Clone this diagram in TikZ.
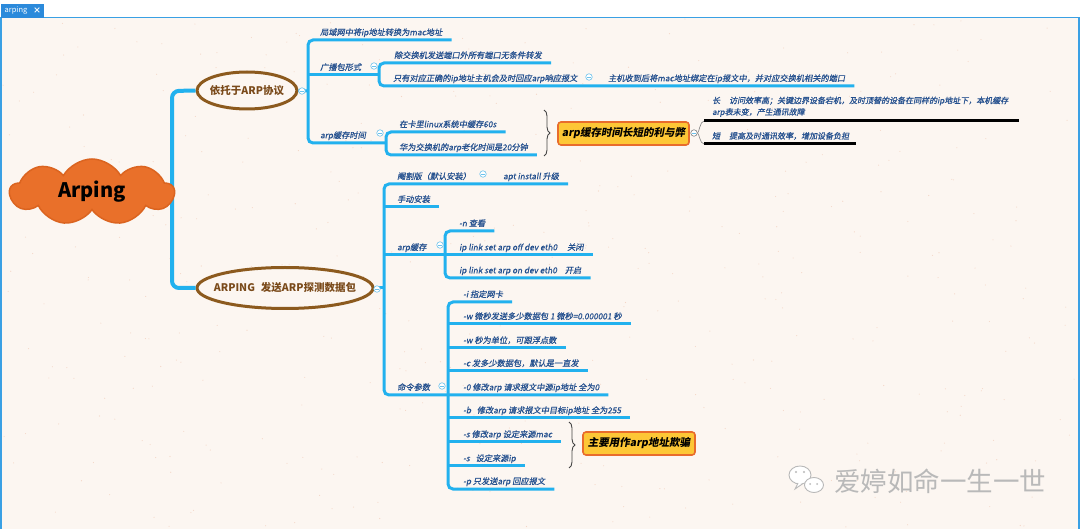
\documentclass[tikz,border=0pt]{standalone}
\usepackage{fontspec}
\setmainfont{Noto Sans CJK SC}
\newfontfamily\slt[FakeSlant=0.18,FakeBold=0.6]{Noto Sans CJK SC}
\newfontfamily\sltb[FakeSlant=0.18]{Noto Sans CJK SC}
\usetikzlibrary{shapes.symbols,shapes.geometric,decorations.pathreplacing}
\definecolor{bgc}{HTML}{FCF6F1}
\definecolor{spk}{HTML}{F4D6C6}
\definecolor{lb}{HTML}{22B1EE}
\definecolor{frm}{HTML}{3AA0E4}
\definecolor{tab}{HTML}{2B8ADB}
\definecolor{lt}{HTML}{24508E}
\definecolor{mkc}{HTML}{6CC2EC}
\definecolor{brn}{HTML}{8C5A1E}
\definecolor{brt}{HTML}{7A4A1A}
\definecolor{bxf}{HTML}{FDC736}
\definecolor{bxd}{HTML}{E86C2C}
\definecolor{cldf}{HTML}{E9702A}
\definecolor{cldd}{HTML}{DB6420}
\definecolor{brcc}{HTML}{444444}
\definecolor{wm}{HTML}{B9B9B9}
\begin{document}
\begin{tikzpicture}[x=1pt,y=-1pt,
  br/.style={draw=lb,line width=3pt,rounded corners=5pt},
  tr/.style={draw=lb,line width=4pt,rounded corners=7pt},
  leaf/.style={font=\slt\fontsize{8.2}{9}\selectfont,text=lt,anchor=south west,inner xsep=9pt,inner ysep=3pt,xshift=-9pt,text height=7pt,text depth=1.5pt},
  mk/.style={circle,draw=mkc,fill=white,line width=0.6pt,minimum size=6.5pt,inner sep=0pt,
    path picture={\draw[mkc,line width=0.6pt] ([xshift=-2pt]path picture bounding box.center) -- ([xshift=2pt]path picture bounding box.center);}},
  topic/.style={ellipse,draw=brn,line width=3pt,fill=bgc,text=brt,font=\bfseries\fontsize{10.5}{12}\selectfont,inner ysep=0pt},
  note/.style={rectangle,rounded corners=3pt,draw=bxd,fill=bxf,line width=1.6pt,font=\sltb\bfseries\fontsize{10.5}{12}\selectfont,inner sep=0pt},
  brc/.style={draw=brcc,line width=0.9pt,decorate,decoration={brace,amplitude=6pt}},
  uline/.style={draw=black,line width=3pt},
  thinc/.style={draw=gray,line width=0.6pt},
]
% ---------- background and window ----------
\useasboundingbox (0,0) rectangle (1080,529);
\fill[white] (0,0) rectangle (1080,529);
\fill[bgc] (1,17) rectangle (1079,529);
\pgfmathsetseed{7}
\foreach \i in {1,...,450}{\fill[spk] (rnd*1074+3, rnd*508+19) circle (0.55);}
\draw[frm,line width=1.2pt] (1,529) -- (1,17.5) -- (1079,17.5) -- (1079,529);
\fill[tab] (1,4) rectangle (44,18);
\node[text=white,font=\fontsize{7.5}{8}\selectfont,inner sep=0pt] (tabtxt) at (16,11) {arping};
\node[text=white,font=\bfseries\fontsize{8}{8}\selectfont,inner sep=0pt] (tabx) at (37,10.5) {×};

% ---------- main trunk ----------
\node[topic,inner xsep=-3pt,minimum width=100pt,minimum height=37pt] (e1) at (247,90.5) {依托于ARP协议};
\node[topic,inner xsep=-9.5pt,minimum width=176pt,minimum height=41pt] (e2) at (285,288) {ARPING\hspace{6pt}发送ARP探测数据包};
\coordinate (tt) at (172,91);
\coordinate (tb) at (172,288);
\draw[tr] (e1.west) -- (tt) -- (tb) -- (e2.west);
\node[cloud,cloud puffs=9,cloud puff arc=120,cloud ignores aspect,minimum width=164pt,minimum height=66pt,
  fill=cldf,draw=cldd,line width=1.5pt,font=\bfseries\fontsize{20}{22}\selectfont,text=black] (root) at (92,192) {Arping};

% ---------- branch 1 ----------
\node[leaf] (n11) at (320,40) {局域网中将ip地址转换为mac地址};
\node[leaf] (n12) at (320,75) {广播包形式};
\node[leaf] (n121) at (394,63) {除交换机发送端口外所有端口无条件转发};
\node[leaf] (n122) at (393,86) {只有对应正确的ip地址主机会及时回应arp响应报文};
\node[leaf] (n1221) at (608,86) {主机收到后将mac地址绑定在ip报文中，并对应交换机相关的端口};
\node[leaf] (n13) at (320,143) {arp缓存时间};
\node[leaf] (n131) at (399,132) {在卡里linux系统中缓存60s};
\node[leaf] (n132) at (399,155) {华为交换机的arp老化时间是20分钟};
\coordinate (b1t) at (308,40);
\coordinate (b1b) at (308,143);
\coordinate (b1m) at (308,75);
\coordinate (b1c) at (308,91);
\coordinate (s12t) at (379,63);
\coordinate (s12b) at (379,86);
\coordinate (s12m) at (379,75);
\coordinate (s13t) at (386,132);
\coordinate (s13b) at (386,155);
\coordinate (s13m) at (386,143);
\draw[br] (n11.south east) -- (b1t) -- (b1b) -- (s13m);
\draw[br] (b1m) -- (s12m);
\draw[br] (e1.east) -- (b1c);
\draw[br] (n121.south east) -- (s12t) -- (s12b) -- (n1221.south east);
\draw[br] (n131.south east) -- (s13t) -- (s13b) -- (n132.south east);
\node[mk] (m1) at (302,91) {};
\node[mk] (m12) at (374,66) {};
\node[mk] (m122) at (589,77) {};
\node[mk] (m13) at (380,133) {};

% brace and note 1
\coordinate (bt1) at (544,110);
\coordinate (bb1) at (544,156);
\draw[brc] (bt1) -- (bb1);
\node[note,minimum width=131pt,minimum height=23pt] (box1) at (623.5,133.5) {arp缓存时间长短的利与弊};
\node[mk,draw=gray] (m3) at (694,133) {};
\coordinate (l1s) at (704,121);
\coordinate (l1e) at (1019,121);
\coordinate (l2s) at (704,144);
\coordinate (l2e) at (856,144);
\draw[thinc] (m3.east) .. controls (699,133) and (700,121) .. (l1s);
\draw[thinc] (m3.east) .. controls (699,133) and (700,144) .. (l2s);
\draw[uline] (l1s) -- (l1e);
\draw[uline] (l2s) -- (l2e);
\node[font=\slt\fontsize{8}{11.5}\selectfont,text=lt,anchor=south west,inner sep=0pt,align=left] (long) at (712,117)
  {长\hspace{9pt}访问效率高；关键边界设备宕机，及时顶替的设备在同样的ip地址下，本机缓存\\arp表未变，产生通讯故障};
\node[font=\slt\fontsize{8}{11.5}\selectfont,text=lt,anchor=south west,inner sep=0pt] (short) at (712,140)
  {短\hspace{9pt}提高及时通讯效率，增加设备负担};

% ---------- branch 2 ----------
\node[leaf] (n21) at (397,184) {阉割版（默认安装）};
\node[leaf] (n21a) at (503,184) {apt install 升级};
\node[leaf] (n22) at (397,207) {手动安装};
\node[leaf] (n23) at (397,255) {arp缓存};
\node[leaf] (n231) at (459,231) {-n 查看};
\node[leaf] (n232) at (459,255) {ip link set arp off dev eth0\hspace{10pt}关闭};
\node[leaf] (n233) at (459,278) {ip link set arp on dev eth0\hspace{8pt}开启};
\node[leaf] (n24) at (397,395) {命令参数};
\node[leaf] (n241) at (463,302) {-i 指定网卡};
\node[leaf] (n242) at (463,324) {-w 微秒发送多少数据包 1 微秒=0.000001 秒};
\node[leaf] (n243) at (463,348) {-w 秒为单位，可跟浮点数};
\node[leaf] (n244) at (463,371) {-c 发多少数据包，默认是一直发};
\node[leaf] (n245) at (463,395) {-0 修改arp 请求报文中源ip地址 全为0};
\node[leaf] (n246) at (463,418) {-b\hspace{4pt} 修改arp 请求报文中目标ip地址 全为255};
\node[leaf] (n247) at (463,442) {-s 修改arp 设定来源mac};
\node[leaf] (n248) at (463,466) {-s\hspace{4pt} 设定来源ip};
\node[leaf] (n249) at (463,489) {-p 只发送arp 回应报文};
\coordinate (b2t) at (384,184);
\coordinate (b2b) at (384,395);
\coordinate (b2c) at (384,288);
\coordinate (b2d) at (384,207);
\coordinate (b2e) at (384,255);
\coordinate (s23t) at (445,231);
\coordinate (s23b) at (445,278);
\coordinate (s24t) at (448,302);
\coordinate (s24b) at (448,489);
\draw[br] (n21a.south east) -- (b2t) -- (b2b) -- (n245.south east);
\draw[br] (e2.east) -- (b2c);
\draw[br] (b2d) -- (n22.south east);
\draw[br] (b2e) -- (n232.south east);
\draw[br] (n231.south east) -- (s23t) -- (s23b) -- (n233.south east);
\draw[br] (n241.south east) -- (s24t) -- (s24b) -- (n249.south east);
\foreach \n/\y in {n242/324,n243/348,n244/371,n246/418,n247/442,n248/466}{
  \draw[br] (448,\y) -- (\n.south east);
}
\node[mk] (m2) at (377,289) {};
\node[mk] (m21) at (483,174) {};
\node[mk] (m23) at (440,245) {};
\node[mk] (m24) at (442,386) {};

% brace and note 2
\coordinate (bt2) at (569,422);
\coordinate (bb2) at (569,468);
\draw[brc] (bt2) -- (bb2);
\node[note,minimum width=112pt,minimum height=23pt] (box2) at (639,443.5) {主要用作arp地址欺骗};

% ---------- watermark ----------
\begin{scope}[draw=wm,line width=0.9pt]
  \draw[fill=white] (800,475) ellipse (11 and 9);
  \draw[fill=white] (798,483) -- (795,489) -- (803,483.5);
  \draw[fill=white] (814,485) ellipse (9.5 and 7.5);
  \fill[wm] (796,472) circle (1.1) (804,472) circle (1.1);
  \fill[wm] (810,484) circle (1) (817,484) circle (1);
\end{scope}
\node[text=wm,font=\fontsize{26.5}{28}\selectfont,inner sep=0pt,anchor=west] (wmtxt) at (834,481) {爱婷如命一生一世};
\end{tikzpicture}
\end{document}
